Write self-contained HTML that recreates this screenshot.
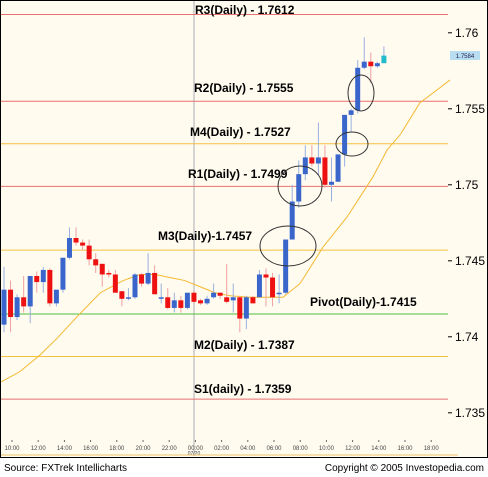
<!DOCTYPE html>
<html><head><meta charset="utf-8"><style>
html,body{margin:0;padding:0;background:#fff;}
svg{display:block;font-family:"Liberation Sans",sans-serif;}
</style></head><body>
<svg id="chart" width="488" height="477" viewBox="0 0 488 477">
<rect x="0" y="0" width="488" height="458" fill="#fffbef"/>
<line x1="194" y1="0" x2="194" y2="456" stroke="#c8c8c8" stroke-width="1.5"/>
<g id="levels"></g>
<g id="ma"></g>
<g id="candles"></g>
<g id="yaxis"></g>
<g id="xaxis"></g>
<g id="ellipses" fill="none" stroke="#333" stroke-width="1">
<ellipse cx="288" cy="246" rx="28" ry="20"/>
<ellipse cx="300" cy="186" rx="22" ry="20"/>
<ellipse cx="352" cy="144" rx="16" ry="12"/>
<ellipse cx="361" cy="93" rx="13" ry="18"/>
</g>
<rect x="450" y="51" width="30" height="9" fill="#b8dcf0"/>
<text x="465" y="58" font-size="6" text-anchor="middle" fill="#225">1.7584</text>
<line x1="0" y1="455" x2="458" y2="455" stroke="#f0c060" stroke-width="1"/>
<rect x="0.5" y="0.5" width="487" height="457" fill="none" stroke="#000" stroke-width="1"/>
<text x="4" y="471" font-size="10" fill="#000">Source: FXTrek Intellicharts</text>
<text x="484" y="471" font-size="10" fill="#000" text-anchor="end">Copyright © 2005 Investopedia.com</text>
</svg>
<script>
const opens  =[1.7408,1.7431,1.7413,1.7426,1.7420,1.7440,1.7436,1.7444,1.7422,1.7431,1.7452,1.7465,1.7462,1.7460,1.7451,1.7448,1.7442,1.7441,1.7430,1.7425,1.7426,1.7441,1.7435,1.7442,1.7425,1.7426,1.7419,1.7424,1.7419,1.7429,1.7424,1.7422,1.7426,1.7429,1.7426,1.7424,1.7426,1.7412,1.7426,1.7426,1.7441,1.7439,1.7428,1.7429,1.7464,1.7489,1.7507,1.7518,1.7514,1.7518,1.7500,1.7502,1.7520,1.7546,1.7549,1.7577,1.7581,1.7578,1.7580];
const highs  =[1.7446,1.7437,1.7428,1.7440,1.7440,1.7443,1.7446,1.7445,1.7431,1.7452,1.7472,1.7472,1.7464,1.7464,1.7455,1.7448,1.7444,1.7444,1.7430,1.7432,1.7442,1.7442,1.7455,1.7447,1.7435,1.7432,1.7429,1.7427,1.7429,1.7430,1.7425,1.7427,1.7435,1.7429,1.7448,1.7435,1.7427,1.7427,1.7427,1.7444,1.7445,1.7442,1.7441,1.7429,1.7500,1.7516,1.7526,1.7526,1.7541,1.7526,1.7518,1.7520,1.7546,1.7550,1.7582,1.7597,1.7587,1.7581,1.7591];
const lows   =[1.7403,1.7403,1.7411,1.7416,1.7409,1.7429,1.7429,1.7420,1.7420,1.7429,1.7451,1.7460,1.7457,1.7447,1.7442,1.7433,1.7439,1.7429,1.7420,1.7424,1.7425,1.7433,1.7434,1.7428,1.7422,1.7418,1.7416,1.7416,1.7418,1.7422,1.7421,1.7421,1.7425,1.7425,1.7422,1.7416,1.7403,1.7405,1.7422,1.7426,1.7420,1.7420,1.7422,1.7428,1.7464,1.7485,1.7503,1.7512,1.7506,1.7498,1.7489,1.7502,1.7512,1.7535,1.7547,1.7576,1.7567,1.7577,1.7580];
const closes =[1.7431,1.7413,1.7426,1.7420,1.7440,1.7436,1.7444,1.7422,1.7431,1.7452,1.7465,1.7462,1.7460,1.7451,1.7447,1.7441,1.7441,1.7429,1.7425,1.7426,1.7441,1.7435,1.7442,1.7428,1.7426,1.7419,1.7424,1.7419,1.7429,1.7423,1.7422,1.7425,1.7429,1.7427,1.7423,1.7426,1.7412,1.7426,1.7422,1.7441,1.7439,1.7426,1.7429,1.7464,1.7489,1.7507,1.7518,1.7514,1.7518,1.7500,1.7502,1.7520,1.7546,1.7549,1.7577,1.7581,1.7578,1.7580,1.7585];
const maIndex=[-0.6,2.4,5.5,8.1,11.1,14.7,18.2,20.8,23.1,25.3,27.6,29.9,32.2,34.5,37.6,40.6,42.6,45.2,48.7,52.4,56.3,58.5,60.5,63.5,66.6,68.1];
const maValues=[1.7370,1.7377,1.7388,1.7399,1.7413,1.7429,1.7437,1.7441,1.7441,1.7439,1.7437,1.7433,1.7429,1.7427,1.7426,1.7426,1.7426,1.7435,1.7459,1.7479,1.7505,1.7523,1.7533,1.7554,1.7564,1.7569];
const levelNames=["R3(Daily) - 1.7612","R2(Daily) - 1.7555","M4(Daily) - 1.7527","R1(Daily) - 1.7499","M3(Daily)-1.7457","Pivot(Daily)-1.7415","M2(Daily) - 1.7387","S1(daily) - 1.7359"];
const levelValues=[1.7612,1.7555,1.7527,1.7499,1.7457,1.7415,1.7387,1.7359];
const levelKinds=["r","r","m","r","m","p","m","r"];
const yTicks=[1.76,1.755,1.75,1.745,1.74,1.735];
const yTickLabels=["1.76","1.755","1.75","1.745","1.74","1.735"];
const xTickLabels=["10:00","12:00","14:00","16:00","18:00","20:00","22:00","00:00","02:00","04:00","06:00","08:00","10:00","12:00","14:00","16:00","18:00"];

const NS="http://www.w3.org/2000/svg";
function y(v){return 314-(v-1.7415)*15200;}
function x(i){return 4+i*6.55;}
function mk(tag,attrs,parent){const e=document.createElementNS(NS,tag);for(const k in attrs)e.setAttribute(k,attrs[k]);parent.appendChild(e);return e;}
const colors={r:"#e87070",m:"#f5c040",p:"#4cc040"};
const labelPos=[[195,14],[194,92],[190,136],[188,178],[158,240],[310,306],[194,349],[194,393]];
const gL=document.getElementById("levels");
levelValues.forEach((v,i)=>{
  const l=mk("line",{x1:0,x2:448,y1:y(v),y2:y(v),stroke:colors[levelKinds[i]],"stroke-width":1},gL);
  
  
  const t=mk("text",{x:labelPos[i][0],y:labelPos[i][1],"font-size":12,"font-weight":"bold",fill:"#000"},gL);
  t.textContent=levelNames[i];
  
  
});
const gM=document.getElementById("ma");
const p=mk("polyline",{points:maIndex.map((m,i)=>x(m)+","+y(maValues[i])).join(" "),fill:"none",stroke:"#f5b830","stroke-width":1},gM);


const gC=document.getElementById("candles");
opens.forEach((o,i)=>{
  const c=closes[i],up=c>=o,cx=x(i);
  let col=up?"#3a66cc":"#ee1111"; if(i===opens.length-1)col="#22bbcc";
  const wc=up?"#9ab0e0":"#f0a0a0";
  const w=mk("line",{x1:cx,x2:cx,y1:y(highs[i]),y2:y(lows[i]),stroke:wc,"stroke-width":1},gC);
  
  
  const top=y(Math.max(o,c)),h=Math.max(1.5,Math.abs(y(o)-y(c)));
  const b=mk("rect",{x:cx-2.5,y:top,width:5,height:h,fill:col},gC);
  
  
});
const gY=document.getElementById("yaxis");
yTicks.forEach((v,i)=>{
  const t=mk("line",{x1:448,x2:452,y1:y(v),y2:y(v),stroke:"#000"},gY);
  
  
  const tx=mk("text",{x:455,y:y(v)+4,"font-size":12,fill:"#000"},gY);
  tx.textContent=yTickLabels[i];
  
  
});
const gX=document.getElementById("xaxis");
xTickLabels.forEach((s,i)=>{
  const xx=12+i*26.2;
  const t=mk("line",{x1:xx,x2:xx,y1:440,y2:442,stroke:"#666"},gX);
  
  
  const tx=mk("text",{x:xx,y:450,"font-size":6,"text-anchor":"middle",fill:"#444"},gX);
  tx.textContent=s;
  
  
});
const d=mk("text",{x:194,y:455,"font-size":5,"text-anchor":"middle",fill:"#444"},gX);
d.textContent="07/20";


</script>
</body></html>
